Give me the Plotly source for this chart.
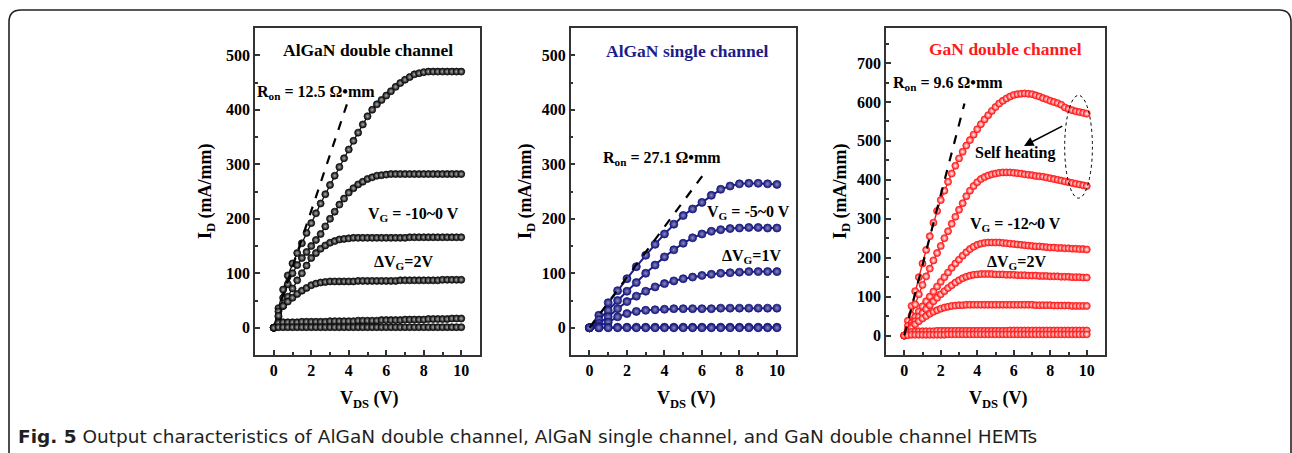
import plotly.graph_objects as go

W, H = 1292, 453

# ---------------- data ----------------
VDS_A = [0, 0.25, 0.5, 0.75, 1, 1.25, 1.5, 1.75, 2, 2.25, 2.5, 2.75, 3, 3.25, 3.5, 3.75, 4, 4.25, 4.5, 4.75,
         5, 5.25, 5.5, 5.75, 6, 6.25, 6.5, 6.75, 7, 7.25, 7.5, 7.75, 8, 8.25, 8.5, 8.75, 9, 9.25, 9.5, 9.75, 10]
ID_A_0 = [0, 36, 70, 96, 118, 137, 155, 174, 192, 210, 228, 245, 262, 279, 295, 311, 327, 343, 358, 373,
          388, 400, 410, 418, 426, 434, 442, 449, 455, 460, 465, 467, 469, 470, 470, 470, 470, 470, 470, 470, 470]
ID_A_m2 = [0, 30, 55, 80, 100, 115, 128, 139, 150, 161, 172, 186, 200, 213, 226, 237, 248, 256, 263, 268,
           273, 276, 279, 280, 281, 282, 282, 282, 282, 282, 282, 282, 282, 282, 282, 282, 282, 282, 282, 282, 282]
ID_A_m4 = [0, 20, 40, 57, 72, 87, 100, 114, 128, 137, 145, 151, 156, 159, 162, 163, 164, 165, 165, 165,
           165, 165, 165, 165, 165, 165, 165, 165, 165, 166, 166, 166, 166, 166, 166, 166, 166, 166, 166, 166, 166]
ID_A_m6 = [0, 22, 40, 48, 55, 62, 68, 73, 78, 81, 83, 84, 85, 85, 85, 85, 85, 85, 86, 86,
           86, 86, 86, 86, 86, 86, 86, 87, 87, 87, 87, 87, 87, 87, 87, 87, 88, 88, 88, 88, 88]
ID_A_m8 = [0, 9, 10, 10, 10, 10, 11, 11, 11, 11, 11, 11, 12, 12, 12, 12, 12, 12, 13, 13,
           13, 13, 13, 14, 14, 14, 14, 14, 15, 15, 15, 15, 15, 16, 16, 16, 16, 16, 17, 17, 17]
ID_A_m10 = [0, 1, 1, 1, 1, 1, 1, 1, 1, 1, 1, 1, 1, 1, 1, 1, 1, 1, 1, 1,
            1, 1, 1, 1, 1, 1, 1, 1, 1, 1, 1, 1, 1, 1, 1, 1, 1, 1, 1, 1, 1]

VDS_S = [0, 0.5, 1, 1.5, 2, 2.5, 3, 3.5, 4, 4.5, 5, 5.5, 6, 6.5, 7, 7.5, 8, 8.5, 9, 9.5, 10]
ID_S_0 = [0, 23, 46, 68, 90, 112, 133, 153, 172, 190, 206, 218, 230, 243, 254, 260, 264, 265, 265, 264, 263]
ID_S_m1 = [0, 15, 32, 50, 67, 83, 100, 115, 130, 143, 155, 165, 172, 177, 180, 182, 183, 184, 184, 183, 183]
ID_S_m2 = [0, 8, 20, 35, 48, 58, 67, 75, 81, 86, 90, 93, 96, 98, 100, 101, 102, 103, 103, 103, 103]
ID_S_m3 = [0, 3, 10, 20, 26, 30, 32, 33, 34, 35, 35, 35, 35, 35, 36, 36, 36, 36, 36, 36, 36]
ID_S_m4 = [0, 0, 1, 1, 1, 1, 1, 1, 1, 1, 1, 1, 1, 1, 1, 1, 1, 1, 1, 1, 1]
ID_S_m5 = [0, 0, 0, 0, 0, 0, 0, 0, 0, 0, 0, 0, 0, 0, 0, 0, 0, 0, 0, 0, 0]

VDS_G = [0, 0.2, 0.4, 0.6, 0.8, 1, 1.2, 1.4, 1.6, 1.8, 2, 2.2, 2.4, 2.6, 2.8, 3, 3.2, 3.4, 3.6, 3.8,
         4, 4.2, 4.4, 4.6, 4.8, 5, 5.2, 5.4, 5.6, 5.8, 6, 6.2, 6.4, 6.6, 6.8, 7, 7.2, 7.4, 7.6, 7.8,
         8, 8.2, 8.4, 8.6, 8.8, 9, 9.2, 9.4, 9.6, 9.8, 10]
ID_G_0 = [0, 38, 76, 114, 150, 185, 220, 255, 290, 320, 348, 372, 395, 416, 436, 455, 472, 488, 502, 516,
          530, 543, 555, 566, 577, 587, 596, 603, 609, 614, 618, 620, 621, 622, 621, 620, 617, 614, 610, 607,
          603, 600, 597, 593, 586, 582, 579, 576, 574, 572, 570]
ID_G_m2 = [0, 25, 52, 80, 106, 130, 152, 172, 193, 212, 230, 250, 268, 287, 305, 323, 340, 358, 372, 384,
           394, 402, 407, 411, 414, 416, 418, 419, 419, 419, 418, 417, 416, 414, 413, 412, 410, 409, 408, 406,
           404, 402, 400, 398, 396, 394, 392, 390, 388, 386, 384]
ID_G_m4 = [0, 15, 32, 48, 62, 75, 88, 100, 113, 126, 138, 150, 162, 174, 185, 195, 205, 214, 222, 228,
           233, 236, 238, 239, 239, 239, 239, 238, 237, 236, 235, 234, 233, 232, 231, 230, 229, 229, 228, 227,
           226, 226, 225, 225, 224, 224, 223, 223, 222, 222, 221]
ID_G_m6 = [0, 12, 25, 37, 48, 58, 68, 78, 88, 97, 106, 114, 122, 129, 136, 142, 147, 151, 154, 156,
           157, 158, 158, 158, 158, 157, 157, 157, 156, 156, 156, 155, 155, 155, 154, 154, 154, 153, 153, 153,
           152, 152, 152, 151, 151, 151, 150, 150, 150, 149, 149]
ID_G_m8 = [0, 10, 20, 29, 37, 44, 50, 56, 61, 65, 69, 72, 74, 76, 77, 78, 78, 79, 79, 79,
           79, 79, 79, 79, 79, 79, 79, 79, 79, 79, 79, 79, 79, 79, 79, 79, 78, 78, 78, 78,
           78, 77, 77, 77, 77, 77, 76, 76, 76, 76, 76]
ID_G_m10 = [0, 6, 9, 10, 11, 11, 11, 11, 11, 12, 12, 12, 12, 12, 12, 12, 12, 12, 12, 12,
            12, 12, 12, 12, 12, 12, 12, 12, 12, 13, 13, 13, 13, 13, 13, 13, 13, 13, 13, 13,
            13, 13, 13, 13, 13, 13, 13, 13, 13, 13, 13]
ID_G_m12 = [0, 1, 2, 2, 2, 2, 2, 2, 2, 2, 2, 2, 3, 3, 3, 3, 3, 3, 3, 3,
            3, 3, 3, 3, 3, 3, 3, 3, 3, 3, 3, 3, 3, 3, 3, 3, 3, 3, 3, 3,
            3, 3, 3, 3, 3, 3, 3, 3, 3, 3, 3]

RON_A_X = [0.4, 3.9]
RON_A_Y = [50, 410]
RON_S_X = [0, 6.05]
RON_S_Y = [0, 280]
RON_G_X = [0, 3.3]
RON_G_Y = [0, 596]

X_TICKS = [0, 2, 4, 6, 8, 10]

# ---------------- styling ----------------
BLACK = "#111111"
NAVY = "#1c1c8a"
RED = "#ff1a1a"
SERIF = "Liberation Serif"


def px(x):
    return x / W


def py(y):
    return 1 - y / H


fig = go.Figure()

panels = [
    ("x", "y", VDS_A, [ID_A_0, ID_A_m2, ID_A_m4, ID_A_m6, ID_A_m8, ID_A_m10], BLACK, "#000000", "#b0b0b0", 7, 1.4, RON_A_X, RON_A_Y),
    ("x2", "y2", VDS_S, [ID_S_0, ID_S_m1, ID_S_m2, ID_S_m3, ID_S_m4, ID_S_m5], NAVY, "#141470", "#8c8cc8", 8, 2, RON_S_X, RON_S_Y),
    ("x3", "y3", VDS_G, [ID_G_0, ID_G_m2, ID_G_m4, ID_G_m6, ID_G_m8, ID_G_m10, ID_G_m12], RED, RED, "white", 7, 1.4, RON_G_X, RON_G_Y),
]

for xa, ya, xs, curves, lc, mc, gc, ms, lw, dx, dy in panels:
    for ys in curves:
        fig.add_trace(go.Scatter(
            x=xs, y=ys, xaxis=xa, yaxis=ya, mode="lines+markers",
            line=dict(color=lc, width=lw),
            marker=dict(size=ms, color=mc, symbol="circle",
                        gradient=dict(type="radial", color=gc),
                        line=dict(color=lc, width=0.8)),
            showlegend=False, hoverinfo="skip"))
    fig.add_trace(go.Scatter(
        x=dx, y=dy, xaxis=xa, yaxis=ya, mode="lines",
        line=dict(color="black", width=2.2, dash="dash"),
        showlegend=False, hoverinfo="skip"))

tickfont = dict(family=SERIF, size=16, color="black", weight="bold")
axis_common = dict(showline=True, linecolor="#333333", linewidth=1.5, mirror=True,
                   ticks="inside", ticklen=5, tickwidth=1.5, tickcolor="#333333",
                   showgrid=False, zeroline=False, tickfont=tickfont)

ytop, ybot = 28, 355
doms = [(255, 480), (570.7, 795.7), (886, 1105)]
yranges = [[-50, 550], [-50, 550], [-50, 790]]
for i, ((l, r), yr) in enumerate(zip(doms, yranges)):
    sfx = "" if i == 0 else str(i + 1)
    fig.update_layout(**{
        "xaxis" + sfx: dict(axis_common, domain=[px(l), px(r)], range=[-1, 11],
                            tickvals=X_TICKS, anchor="y" + sfx,
                            minor=dict(dtick=1, tick0=0, ticks="inside", ticklen=3, tickwidth=1.5, tickcolor="#333333")),
        "yaxis" + sfx: dict(axis_common, domain=[py(ybot), py(ytop)], range=yr,
                            dtick=100, tick0=0, anchor="x" + sfx,
                            minor=dict(dtick=50, tick0=0, ticks="inside", ticklen=3, tickwidth=1.5, tickcolor="#333333")),
    })

ann = []


def text(x, y, s, size=16, color="black", xanchor="left", angle=0, family=SERIF, bold=True):
    ann.append(dict(x=px(x), y=py(y), xref="paper", yref="paper", text=s, showarrow=False,
                    xanchor=xanchor, yanchor="middle", textangle=angle,
                    font=dict(family=family, size=size, color=color, weight="bold" if bold else "normal")))


# panel titles
text(368, 50, "AlGaN double channel", 17.5, "black", "center")
text(687, 51, "AlGaN single channel", 17.5, NAVY, "center")
text(1005, 49, "GaN double channel", 17.5, RED, "center")

# axis titles
for cx in (207, 527, 842):
    text(cx, 191, "I<sub>D</sub> (mA/mm)", 18, "black", "center", -90)
for cx in (369, 686, 998):
    text(cx, 399, "V<sub>DS</sub> (V)", 18, "black", "center")

# annotations
text(255, 93, "R<sub>on</sub> = 12.5 Ω•mm", 16)
text(366, 214, "V<sub>G</sub> = -10~0 V", 16)
text(372, 262, "ΔV<sub>G</sub>=2V", 16)

text(601, 158, "R<sub>on</sub> = 27.1 Ω•mm", 16)
text(705, 213, "V<sub>G</sub> = -5~0 V", 16)
text(720, 256, "ΔV<sub>G</sub>=1V", 16)

text(891, 83, "R<sub>on</sub> = 9.6 Ω•mm", 16)
text(973, 153, "Self heating", 16)
text(968, 224, "V<sub>G</sub> = -12~0 V", 16)
text(985, 262, "ΔV<sub>G</sub>=2V", 16)

# arrow
ann.append(dict(x=6.56, y=487, xref="x3", yref="y3", ax=8.74, ay=540, axref="x3", ayref="y3",
                showarrow=True, arrowhead=2, arrowsize=1.2, arrowwidth=1.6, arrowcolor="black", text=""))

# caption
ann.append(dict(x=px(16), y=py(436), xref="paper", yref="paper", showarrow=False,
                xanchor="left", yanchor="middle",
                text="<b>Fig. 5</b> Output characteristics of AlGaN double channel, AlGaN single channel, and GaN double channel HEMTs",
                font=dict(family="DejaVu Sans", size=18.5, color="#231f20")))

shapes = [
    dict(type="circle", xref="x3", yref="y3", x0=8.79, x1=10.31, y0=353, y1=617,
         line=dict(color="black", width=1, dash="dot")),
]

# outer rounded frame
L, T, R_, B = 9, 10, 1291, 470
rad = 12
path = (f"M {px(L)},{py(B)} L {px(L)},{py(T + rad)} Q {px(L)},{py(T)} {px(L + rad)},{py(T)} "
        f"L {px(R_ - rad)},{py(T)} Q {px(R_)},{py(T)} {px(R_)},{py(T + rad)} L {px(R_)},{py(B)}")
shapes.append(dict(type="path", xref="paper", yref="paper", path=path,
                   line=dict(color="#222222", width=1.6)))

fig.update_layout(width=W, height=H, margin=dict(l=0, r=0, t=0, b=0),
                  paper_bgcolor="white", plot_bgcolor="white",
                  annotations=ann, shapes=shapes, showlegend=False)

fig.write_html("out.html", config={"displayModeBar": False},
               post_script="document.body.style.margin='0';document.body.style.overflow='hidden';")
